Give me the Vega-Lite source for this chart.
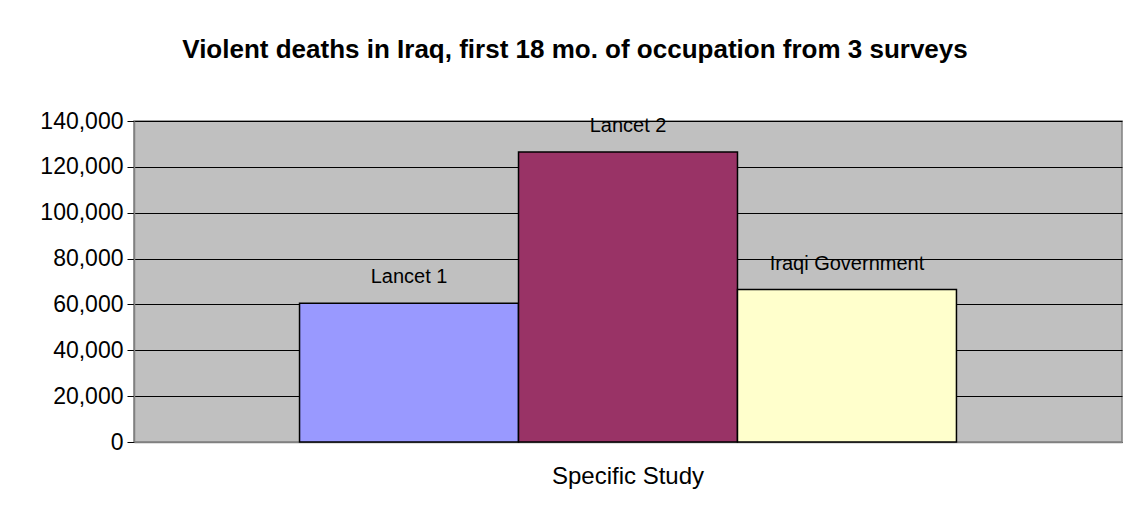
{
  "$schema": "https://vega.github.io/schema/vega-lite/v6.json",
  "autosize": {"type": "none"},
  "padding": {"left": 134, "top": 121, "right": 11, "bottom": 71},
  "width": 988,
  "height": 321,
  "background": "white",
  "title": {
    "text": "Violent deaths in Iraq, first 18 mo. of occupation from 3 surveys",
    "font": "Liberation Sans",
    "fontSize": 26,
    "fontWeight": "bold",
    "color": "#000000",
    "anchor": "middle",
    "frame": "group",
    "dx": -53,
    "offset": 47
  },
  "data": {
    "values": [
      {"group": "Specific Study", "study": "Lancet 1", "deaths": 60500},
      {"group": "Specific Study", "study": "Lancet 2", "deaths": 126500},
      {"group": "Specific Study", "study": "Iraqi Government", "deaths": 66500}
    ]
  },
  "encoding": {
    "x": {
      "field": "group",
      "type": "nominal",
      "scale": {"paddingInner": 0, "paddingOuter": 0.252},
      "axis": {
        "title": null,
        "labelAngle": 0,
        "labelFont": "Liberation Sans",
        "labelFontSize": 24,
        "labelColor": "#000000",
        "labelPadding": 22,
        "ticks": false,
        "domainColor": "#808080",
        "domainWidth": 1.5
      }
    },
    "xOffset": {
      "field": "study",
      "type": "nominal",
      "sort": ["Lancet 1", "Lancet 2", "Iraqi Government"],
      "scale": {"paddingInner": 0, "paddingOuter": 0}
    },
    "y": {
      "field": "deaths",
      "type": "quantitative",
      "scale": {"domain": [0, 140000], "nice": false},
      "axis": {
        "title": null,
        "values": [0, 20000, 40000, 60000, 80000, 100000, 120000, 140000],
        "format": ",d",
        "labelFont": "Liberation Sans",
        "labelFontSize": 23,
        "labelColor": "#000000",
        "labelPadding": 4,
        "tickSize": 7,
        "tickColor": "#000000",
        "domainColor": "#808080",
        "domainWidth": 1.5,
        "grid": true,
        "gridColor": "#000000",
        "gridWidth": 1
      }
    }
  },
  "layer": [
    {
      "mark": {"type": "bar", "stroke": "#000000", "strokeWidth": 1.5},
      "encoding": {
        "color": {
          "field": "study",
          "type": "nominal",
          "scale": {
            "domain": ["Lancet 1", "Lancet 2", "Iraqi Government"],
            "range": ["#9999FF", "#993366", "#FFFFCC"]
          },
          "legend": null
        }
      }
    },
    {
      "mark": {
        "type": "text",
        "font": "Liberation Sans",
        "fontSize": 20,
        "color": "#000000",
        "baseline": "middle",
        "dy": -26
      },
      "encoding": {
        "text": {"field": "study", "type": "nominal"}
      }
    }
  ],
  "config": {
    "view": {"stroke": "#808080", "strokeWidth": 1.5, "fill": "#C0C0C0"}
  }
}
